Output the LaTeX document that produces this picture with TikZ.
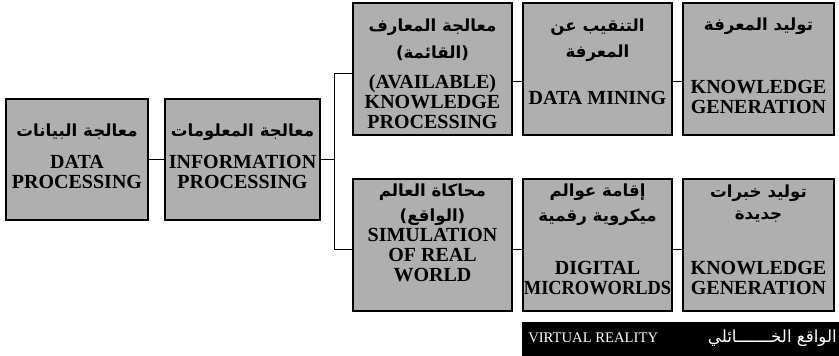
\documentclass[tikz,border=0pt]{standalone}
\usepackage{fontspec}
\setmainfont{Liberation Serif}
\newfontfamily\arabicfont[Script=Arabic]{DejaVu Sans}
\TeXXeTstate=1
\usetikzlibrary{fit}
\definecolor{boxgray}{RGB}{175,175,175}
\tikzset{
  box/.style={draw=black, line width=1.6pt, fill=boxgray, inner sep=0pt},
  en/.style={font=\fontsize{15}{15}\selectfont\bfseries, align=center, inner sep=0pt},
  ar/.style={font=\fontsize{12.5}{12.5}\selectfont\arabicfont\bfseries, inner sep=0pt},
  link/.style={draw=black, line width=0.6pt},
  vrtext/.style={text=white, inner sep=0pt},
}
\begin{document}
\begin{tikzpicture}[x=0.75pt, y=-0.75pt]
\useasboundingbox (0,0) rectangle (839,356);
% boxes
\node[box, fit={(6,99) (148,220)}] (b1) {};
\node[box, fit={(165,99) (320,220)}] (b2) {};
\node[box, fit={(353,3) (512,135)}] (b3) {};
\node[box, fit={(523,3) (672,135)}] (b4) {};
\node[box, fit={(683,3) (834,135)}] (b5) {};
\node[box, fit={(353,179) (512,311)}] (b6) {};
\node[box, fit={(523,179) (672,311)}] (b7) {};
\node[box, fit={(683,179) (834,311)}] (b8) {};
% texts
\node[ar] (a1) at (77,132) {\beginR معالجة البيانات\endR};
\node[en] (e1) at (77,172) {DATA\\PROCESSING};
\node[ar] (a2) at (242.5,132) {\beginR معالجة المعلومات\endR};
\node[en] (e2) at (242.5,172) {INFORMATION\\PROCESSING};
\node[ar] (a3) at (432.5,27) {\beginR معالجة المعارف\endR};
\node[ar] (a3b) at (432.5,53) {(القائمة)};
\node[en] (e3) at (432.5,102) {(AVAILABLE)\\KNOWLEDGE\\PROCESSING};
\node[ar] (a4) at (597.5,27) {\beginR التنقيب عن\endR};
\node[ar] (a4b) at (597.5,53) {\beginR المعرفة\endR};
\node[en] (e4) at (597.5,98) {DATA MINING};
\node[ar] (a5) at (758.5,26) {\beginR توليد المعرفة\endR};
\node[en] (e5) at (758.5,97) {KNOWLEDGE\\GENERATION};
\node[ar] (a6) at (432.5,192) {\beginR محاكاة العالم\endR};
\node[ar] (a6b) at (432.5,217) {(الواقع)};
\node[en] (e6) at (432.5,255) {SIMULATION\\OF REAL\\WORLD};
\node[ar] (a7) at (597.5,192) {\beginR إقامة عوالم\endR};
\node[ar] (a7b) at (597.5,217) {\beginR ميكروية رقمية\endR};
\node[en] (e7) at (597.5,278) {DIGITAL\\\scalebox{0.92}[1]{MICROWORLDS}};
\node[ar] (a8) at (758.5,193) {\beginR توليد خبرات\endR};
\node[ar] (a8b) at (758.5,217) {\beginR جديدة\endR};
\node[en] (e8) at (758.5,278) {KNOWLEDGE\\GENERATION};
% connectors
\coordinate (jm) at (334,159.5);
\coordinate (jt) at (334,73);
\coordinate (jb) at (334,249);
\draw[link] (b1) -- (b2);
\draw[link] (b2.east) -- (jm);
\draw[link] (b3.west |- jt) -- (jt) -- (jb) -- (b6.west |- jb);
\draw[link] (b3.east |- 0,81) -- (b4.west |- 0,81);
\draw[link] (b4.east |- 0,81) -- (b5.west |- 0,81);
\draw[link] (b6.east |- 0,249) -- (b7.west |- 0,249);
\draw[link] (b7.east |- 0,249) -- (b8.west |- 0,249);
% banner
\node[fill=black, inner sep=0pt, fit={(522,322) (839,356)}] (vr) {};
\node[vrtext, font=\fontsize{11}{11}\selectfont, anchor=west] (vren) at (528,338) {VIRTUAL REALITY};
\node[vrtext, font=\fontsize{12.5}{12.5}\selectfont\arabicfont, anchor=east] (vrar) at (837,338) {\beginR الواقع الخـــــــائلي\endR};
\end{tikzpicture}
\end{document}
